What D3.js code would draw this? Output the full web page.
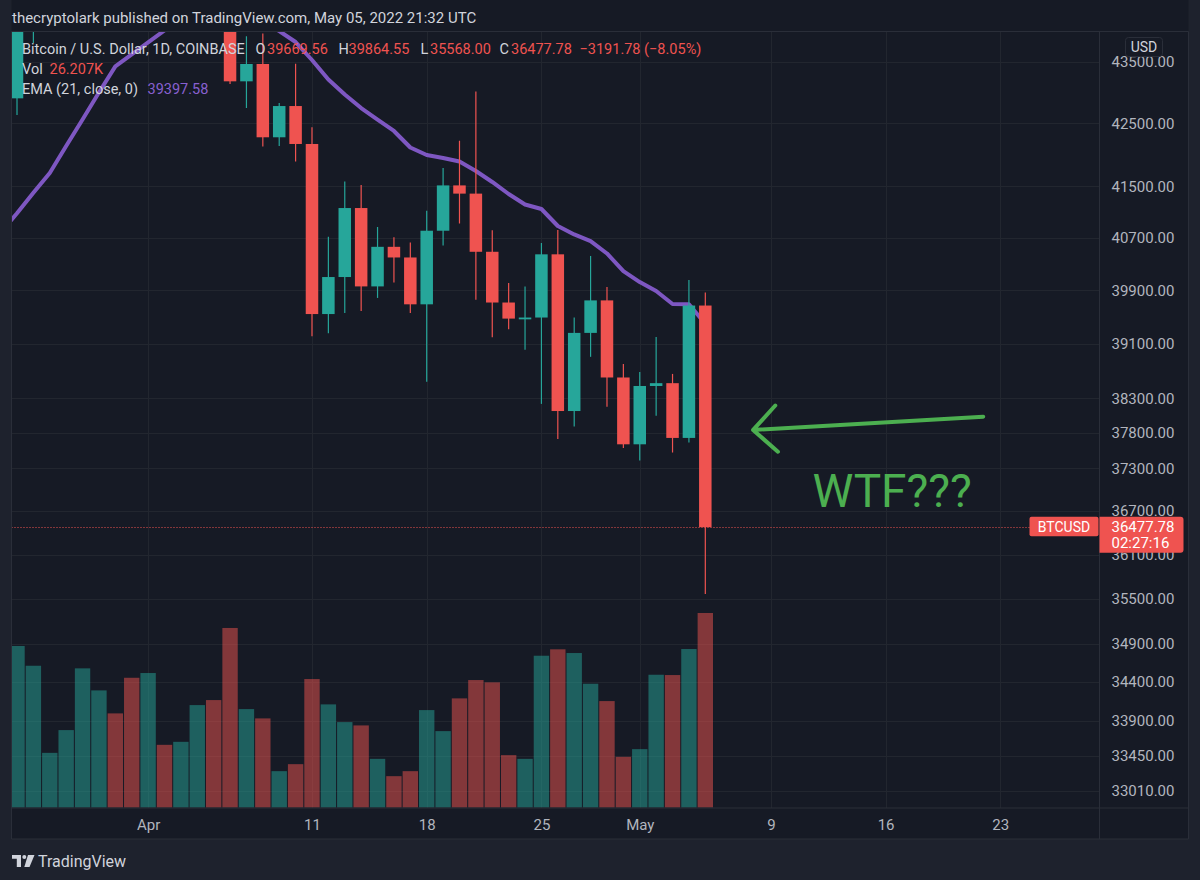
<!DOCTYPE html>
<html>
<head>
<meta charset="utf-8">
<script src="https://cdn.jsdelivr.net/npm/d3@7"></script>
<style>
  body { margin: 0; background: #1e222d; }
  svg { display: block; font-family: Roboto, "Noto Sans", sans-serif; }
</style>
</head>
<body>
<svg id="chart" width="1200" height="880"></svg>
<script>
// daily BTCUSD, Coinbase, 23 Mar - 5 May 2022 (first day sits off the left edge)
var dates = ["2022-03-23","2022-03-24","2022-03-25","2022-03-26","2022-03-27","2022-03-28","2022-03-29","2022-03-30","2022-03-31",
    "2022-04-01","2022-04-02","2022-04-03","2022-04-04","2022-04-05","2022-04-06","2022-04-07","2022-04-08","2022-04-09","2022-04-10",
    "2022-04-11","2022-04-12","2022-04-13","2022-04-14","2022-04-15","2022-04-16","2022-04-17","2022-04-18","2022-04-19","2022-04-20",
    "2022-04-21","2022-04-22","2022-04-23","2022-04-24","2022-04-25","2022-04-26","2022-04-27","2022-04-28","2022-04-29","2022-04-30",
    "2022-05-01","2022-05-02","2022-05-03","2022-05-04","2022-05-05"];

var opens  = [42370, 42906, 44000, 44340, 44520, 46820, 47130, 47460, 47070, 45530, 46290, 45830, 46410, 46620, 45500, 43183, 43467, 42278, 42781,
    42171, 39542, 40100, 41161, 39958, 40561, 40398, 39688, 40809, 41515, 41386, 40485, 39715, 39463, 39490, 40446, 38117, 39261, 39747, 38604,
    37640, 38480, 38521, 37731, 39669.56];
var highs  = [43000, 44250, 45100, 44800, 46900, 48190, 48100, 47700, 47600, 46700, 47200, 47440, 46900, 47100, 45700, 43925, 43970, 42830, 43470,
    42438, 40715, 41576, 41521, 40866, 40710, 40627, 41119, 41791, 42223, 43019, 40817, 40011, 39958, 40621, 40820, 39490, 40421, 39949, 38803,
    38684, 39200, 38656, 40055, 39864.55];
var lows   = [41850, 42636, 43814, 44150, 44430, 46650, 46950, 46550, 45220, 44210, 45640, 45540, 45120, 45360, 43140, 42749, 42131, 42140, 41892,
    39212, 39255, 39558, 39587, 39784, 40017, 39559, 38541, 40583, 40919, 39758, 39198, 39314, 39013, 38220, 37717, 37896, 38907, 38178, 37588,
    37411, 38050, 37523, 37665, 35568.00];
var closes = [42900, 44000, 44340, 44520, 46820, 47130, 47460, 47070, 45530, 46290, 45830, 46410, 46620, 45500, 43183, 43467, 42278, 42781, 42171,
    39542, 40100, 41161, 39958, 40561, 40398, 39688, 40809, 41515, 41386, 40485, 39715, 39474, 39490, 40446, 38117, 39261, 39747, 38604, 37640,
    38480, 38521, 37731, 39669.56, 36477.78];
var volumes = [15200, 21760, 19100, 7365, 10430, 18750, 15780, 12680, 17480, 18120, 8445, 8850, 13800, 14475, 24190, 13260, 12005, 4897, 5841,
    17310, 13895, 11507, 11060, 6556, 4222, 4897, 13126, 10293, 14704, 17173, 16863, 7055, 6556, 20450, 21314, 20815, 16674, 14340, 6826,
    7865, 17888, 17847, 21355, 26207];
var ema21 = [40780, 41080, 41400, 41710, 42138, 42563, 43001, 43429, 43627, 43824, 44023, 44240, 44456, 44551, 44426, 44336, 44148, 44013, 43830,
    43533, 43213, 42968, 42749, 42563, 42379, 42115, 41995, 41948, 41892, 41742, 41569, 41380, 41216, 41146, 40882, 40751, 40650, 40459, 40191,
    40024, 39888, 39692, 39690, 39397.58];

var priceTicks = [43500, 42500, 41500, 40700, 39900, 39100, 38300, 37800, 37300, 36700, 36100, 35500, 34900, 34400, 33900, 33450, 33010];
var timeTicks = ["2022-04-01", "2022-04-11", "2022-04-18", "2022-04-25", "2022-05-01", "2022-05-09", "2022-05-16", "2022-05-23"];
var timeTickLabels = ["Apr", "11", "18", "25", "May", "9", "16", "23"];

// hand drawn note: arrow tail/tip and text anchor, in date/price terms
var arrowTail = {date: "2022-05-21T23:00", price: 38035};
var arrowTip = {date: "2022-05-07T22:00", price: 37845};
var noteText = {date: "2022-05-11T13:00", price: 36761, text: "WTF???"};

var pane = {left: 11.5, right: 1099.5, top: 31.5, bottom: 808, axisBottom: 839, axisRight: 1188.5};

var upColor = "#26a69a", downColor = "#ef5350", emaColor = "#7e57c2",
    gridColor = "#22262f", borderColor = "#2a2e39", textColor = "#b2b5be", paneColor = "#161a25";

var parseDay = d3.utcParse("%Y-%m-%d");
var parseHour = d3.utcParse("%Y-%m-%dT%H:%M");

var df = dates.map(function(d, i){
    return {date: parseDay(d), o: opens[i], h: highs[i], l: lows[i], c: closes[i], v: volumes[i], ema: ema21[i]};
});

var xScale = d3.scaleUtc()
    .domain([parseDay("2022-03-24"), parseDay("2022-05-23")])
    .range([17, 1000.3]);

var yScale = d3.scaleLog()
    .domain([33010, 43500])
    .range([791.1, 62]);

var vScale = d3.scaleLinear()
    .domain([0, d3.max(volumes)])
    .range([807.5, 613]);

var svg = d3.select("#chart");

// background: dark chart block over the lighter frame
svg.append("rect")
    .attr("x", pane.left).attr("y", 0)
    .attr("width", pane.axisRight - pane.left)
    .attr("height", pane.axisBottom)
    .attr("fill", paneColor);

svg.append("defs").append("clipPath")
    .attr("id", "pane-clip")
    .append("rect")
    .attr("x", pane.left).attr("y", pane.top)
    .attr("width", pane.right - pane.left)
    .attr("height", pane.bottom - pane.top);

// grid
var grid = svg.append("g").attr("class", "grid");

grid.selectAll(".hgrid")
    .data(priceTicks)
    .enter()
    .append("line")
    .attr("class", "hgrid")
    .attr("x1", pane.left).attr("x2", pane.right)
    .attr("y1", function(d){ return Math.round(yScale(d)) + 0.5 })
    .attr("y2", function(d){ return Math.round(yScale(d)) + 0.5 })
    .attr("stroke", gridColor);

grid.selectAll(".vgrid")
    .data(timeTicks)
    .enter()
    .append("line")
    .attr("class", "vgrid")
    .attr("x1", function(d){ return Math.round(xScale(parseDay(d))) + 0.5 })
    .attr("x2", function(d){ return Math.round(xScale(parseDay(d))) + 0.5 })
    .attr("y1", pane.top).attr("y2", pane.bottom)
    .attr("stroke", gridColor);

var plot = svg.append("g")
    .attr("clip-path", "url(#pane-clip)");

// volume
var step = xScale(parseDay("2022-03-25")) - xScale(parseDay("2022-03-24"));
var volWidth = step - 1;

plot.selectAll(".vol")
    .data(df)
    .enter()
    .append("rect")
    .attr("class", "vol")
    .attr("x", function(d){ return xScale(d.date) - volWidth / 2 })
    .attr("y", function(d){ return vScale(d.v) })
    .attr("width", volWidth)
    .attr("height", function(d){ return vScale(0) - vScale(d.v) })
    .attr("fill", function(d){ return d.c >= d.o ? upColor : downColor })
    .attr("fill-opacity", 0.5);

// EMA 21
var emaLine = d3.line()
    .x(function(d){ return xScale(d.date) })
    .y(function(d){ return yScale(d.ema) });

plot.append("path")
    .datum(df)
    .attr("d", emaLine)
    .attr("fill", "none")
    .attr("stroke", emaColor)
    .attr("stroke-width", 4)
    .attr("stroke-linejoin", "round");

// candles
var bodyWidth = 12.5;
var candles = plot.selectAll(".candle")
    .data(df)
    .enter()
    .append("g")
    .attr("class", "candle")
    .attr("fill", function(d){ return d.c >= d.o ? upColor : downColor })
    .attr("stroke", function(d){ return d.c >= d.o ? upColor : downColor });

candles.append("line")
    .attr("x1", function(d){ return xScale(d.date) })
    .attr("x2", function(d){ return xScale(d.date) })
    .attr("y1", function(d){ return yScale(d.h) })
    .attr("y2", function(d){ return yScale(d.l) })
    .attr("stroke-width", 1.2);

candles.append("rect")
    .attr("stroke", "none")
    .attr("x", function(d){ return xScale(d.date) - bodyWidth / 2 })
    .attr("y", function(d){ return yScale(Math.max(d.o, d.c)) })
    .attr("width", bodyWidth)
    .attr("height", function(d){ return Math.max(1.5, yScale(Math.min(d.o, d.c)) - yScale(Math.max(d.o, d.c))) });

// last price line
var last = df[df.length - 1];
var lastY = yScale(last.c);

svg.append("line")
    .attr("x1", pane.left).attr("x2", 1029.5)
    .attr("y1", Math.round(lastY) + 0.5).attr("y2", Math.round(lastY) + 0.5)
    .attr("stroke", downColor)
    .attr("stroke-width", 1)
    .attr("stroke-dasharray", "1,2");

// borders
var borders = [
    [pane.left, pane.top, pane.axisRight, pane.top],
    [pane.left, pane.bottom, pane.axisRight, pane.bottom],
    [pane.left, pane.axisBottom, pane.axisRight, pane.axisBottom],
    [pane.left, pane.top, pane.left, pane.axisBottom],
    [pane.right, pane.top, pane.right, pane.axisBottom],
    [pane.axisRight, pane.top, pane.axisRight, pane.axisBottom]
];
svg.selectAll(".border")
    .data(borders)
    .enter()
    .append("line")
    .attr("class", "border")
    .attr("x1", function(d){ return d[0] }).attr("y1", function(d){ return d[1] })
    .attr("x2", function(d){ return d[2] }).attr("y2", function(d){ return d[3] })
    .attr("stroke", borderColor);

// price axis
var yAxis = svg.append("g")
    .attr("transform", "translate(" + pane.right + ",0)")
    .call(d3.axisRight(yScale)
        .tickValues(priceTicks)
        .tickFormat(d3.format(".2f"))
        .tickSize(0)
        .tickPadding(12));
yAxis.select(".domain").remove();
yAxis.selectAll("text")
    .attr("fill", textColor)
    .style("font-size", "15px")
    .style("font-family", "Roboto, sans-serif");

// time axis
var xAxis = svg.append("g")
    .attr("transform", "translate(0," + pane.bottom + ")")
    .call(d3.axisBottom(xScale)
        .tickValues(timeTicks.map(parseDay))
        .tickFormat(function(d, i){ return timeTickLabels[i] })
        .tickSize(0)
        .tickPadding(11));
xAxis.select(".domain").remove();
xAxis.selectAll("text")
    .attr("fill", textColor)
    .style("font-size", "15px")
    .style("font-family", "Roboto, sans-serif");

// USD badge
svg.append("rect")
    .attr("x", 1125.5).attr("y", 37.5)
    .attr("width", 37).attr("height", 19)
    .attr("rx", 3)
    .attr("fill", paneColor)
    .attr("stroke", borderColor);
svg.append("text")
    .attr("x", 1144).attr("y", 52)
    .attr("text-anchor", "middle")
    .attr("fill", "#d1d4dc")
    .style("font-size", "14px")
    .text("USD");

// last price badges
svg.append("rect")
    .attr("x", 1029.5).attr("y", lastY - 10.5)
    .attr("width", 69).attr("height", 19.5)
    .attr("rx", 2)
    .attr("fill", downColor);
svg.append("text")
    .attr("x", 1064).attr("y", lastY + 4.5)
    .attr("text-anchor", "middle")
    .attr("fill", "#ffffff")
    .style("font-size", "14px")
    .text("BTCUSD");

svg.append("path")
    .attr("d", "M1099.5," + (lastY - 10.5) + "h81a3,3 0 0 1 3,3v30a3,3 0 0 1 -3,3h-81z")
    .attr("fill", downColor);
svg.append("text")
    .attr("x", 1111.5).attr("y", lastY + 5)
    .attr("fill", "#ffffff")
    .style("font-size", "15px")
    .text(d3.format(".2f")(last.c));
svg.append("text")
    .attr("x", 1111.5).attr("y", lastY + 20.5)
    .attr("fill", "#ffffff")
    .style("font-size", "15px")
    .text("02:27:16");

// header
svg.append("text")
    .attr("x", 12).attr("y", 23)
    .attr("fill", "#d1d4dc")
    .style("font-size", "15px")
    .text("thecryptolark published on TradingView.com, May 05, 2022 21:32 UTC");

// legend
var fmt = d3.format(".2f");
var change = last.c - last.o;
var legendRows = [
    [{x: 22, t: "Bitcoin / U.S. Dollar, 1D, COINBASE", c: "#d1d4dc"},
     {x: 255.5, t: "O", c: "#d1d4dc"}, {x: 267, t: fmt(last.o), c: downColor},
     {x: 338.5, t: "H", c: "#d1d4dc"}, {x: 348.5, t: fmt(last.h), c: downColor},
     {x: 420.5, t: "L", c: "#d1d4dc"}, {x: 430, t: fmt(last.l), c: downColor},
     {x: 499.5, t: "C", c: "#d1d4dc"}, {x: 511, t: fmt(last.c), c: downColor},
     {x: 579.5, t: "\u2212" + fmt(Math.abs(change)) + " (\u2212" + fmt(Math.abs(change) / last.o * 100) + "%)", c: downColor}],
    [{x: 22, t: "Vol", c: "#d1d4dc"}, {x: 49.5, t: d3.format(".3f")(last.v / 1000) + "K", c: downColor}],
    [{x: 22, t: "EMA (21, close, 0)", c: "#d1d4dc"}, {x: 147.5, t: fmt(last.ema), c: "#8860d0"}]
];
var legendY = [53.5, 73.5, 93.5];

legendRows.forEach(function(row, r){
    svg.selectAll(".legend-" + r)
        .data(row)
        .enter()
        .append("text")
        .attr("class", "legend-" + r)
        .attr("x", function(d){ return d.x })
        .attr("y", legendY[r])
        .attr("fill", function(d){ return d.c })
        .style("font-size", "14.5px")
        .text(function(d){ return d.t });
});

// the hand drawn arrow and note
var tail = [xScale(parseHour(arrowTail.date)), yScale(arrowTail.price)];
var tip = [xScale(parseHour(arrowTip.date)), yScale(arrowTip.price)];
var ang = Math.atan2(tail[1] - tip[1], tail[0] - tip[0]);
var wing = 33, spread = 44.5 * Math.PI / 180;
var noteGreen = "#4caf50";

svg.append("path")
    .attr("d", "M" + tail[0] + "," + tail[1] + "L" + tip[0] + "," + tip[1] +
        "M" + (tip[0] + wing * Math.cos(ang - spread)) + "," + (tip[1] + wing * Math.sin(ang - spread)) +
        "L" + tip[0] + "," + tip[1] +
        "L" + (tip[0] + wing * Math.cos(ang + spread)) + "," + (tip[1] + wing * Math.sin(ang + spread)))
    .attr("fill", "none")
    .attr("stroke", noteGreen)
    .attr("stroke-width", 4)
    .attr("stroke-linecap", "round")
    .attr("stroke-linejoin", "round");

svg.append("text")
    .attr("x", xScale(parseHour(noteText.date)))
    .attr("y", yScale(noteText.price))
    .attr("fill", noteGreen)
    .style("font-size", "46px")
    .text(noteText.text);

// footer logo
var logo = svg.append("g")
    .attr("transform", "translate(12,855)")
    .attr("fill", "#d1d4dc");
logo.append("path").attr("d", "M0,0h9v12h-4.2v-8.2h-4.8z");
logo.append("circle").attr("cx", 12.3).attr("cy", 2).attr("r", 2);
logo.append("path").attr("d", "M16,0h6.5l-5,12h-5.2z");
svg.append("text")
    .attr("x", 38).attr("y", 867)
    .attr("fill", "#d1d4dc")
    .style("font-size", "16px")
    .text("TradingView");
</script>
</body>
</html>
